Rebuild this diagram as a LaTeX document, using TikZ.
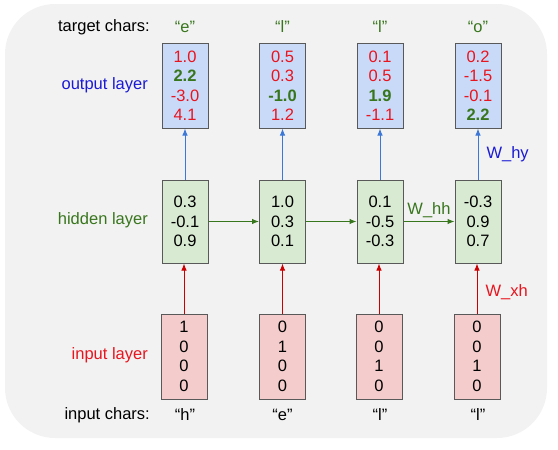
\documentclass[tikz,border=0pt]{standalone}
\usepackage{fontspec}
\setmainfont{Liberation Sans}
\usetikzlibrary{arrows.meta}
\definecolor{bgc}{HTML}{F2F2F2}
\definecolor{outfill}{HTML}{C9DAF8}
\definecolor{hidfill}{HTML}{D9EAD3}
\definecolor{infill}{HTML}{F4CCCC}
\definecolor{boxline}{HTML}{595959}
\definecolor{tred}{HTML}{E8141E}
\definecolor{tgreen}{HTML}{38761D}
\definecolor{tblue}{HTML}{1A1AD6}
\definecolor{ablue}{HTML}{3C78D8}
\definecolor{ared}{HTML}{CC0000}
\begin{document}
\begin{tikzpicture}[x=1pt,y=-1pt,
  txt/.style={font=\fontsize{16.5}{19.5}\selectfont, inner sep=0pt},
  vbox/.style={txt, draw=boxline, line width=1pt, minimum width=46pt, align=center},
  outbox/.style={vbox, fill=outfill, minimum height=85pt, text=tred},
  hidbox/.style={vbox, fill=hidfill, minimum height=83pt},
  inbox/.style={vbox, fill=infill, minimum height=85pt},
  lbl/.style={txt, anchor=east},
  arr/.style={-{Latex[length=7pt,width=5.5pt]}, line width=1pt}]
\useasboundingbox (0,0) rectangle (558,450);
\fill[bgc, rounded corners=50pt] (5,4) rectangle (547,438);
% headers
\node[lbl] (tc) at (150,27) {target chars:};
\node[lbl, text=tblue] (ol) at (148,85) {output layer};
\node[lbl, text=tgreen] (hl) at (148,220) {hidden layer};
\node[lbl, text=tred] (il) at (148,355) {input layer};
\node[lbl] (ic) at (150,415) {input chars:};
% target chars
\node[txt, text=tgreen] (t1) at (185,27) {“e”};
\node[txt, text=tgreen] (t2) at (282.5,27) {“l”};
\node[txt, text=tgreen] (t3) at (380,27) {“l”};
\node[txt, text=tgreen] (t4) at (478,27) {“o”};
% output boxes
\node[outbox] (o1) at (185,85.5) {1.0\\\textcolor{tgreen}{\bfseries 2.2}\\-3.0\\4.1};
\node[outbox] (o2) at (282.5,85.5) {0.5\\0.3\\\textcolor{tgreen}{\bfseries -1.0}\\1.2};
\node[outbox] (o3) at (380,85.5) {0.1\\0.5\\\textcolor{tgreen}{\bfseries 1.9}\\-1.1};
\node[outbox] (o4) at (478,85.5) {0.2\\-1.5\\-0.1\\\textcolor{tgreen}{\bfseries 2.2}};
% hidden boxes
\node[hidbox] (h1) at (185,221.5) {0.3\\-0.1\\0.9};
\node[hidbox] (h2) at (282.5,221.5) {1.0\\0.3\\0.1};
\node[hidbox] (h3) at (380,221.5) {0.1\\-0.5\\-0.3};
\node[hidbox] (h4) at (478,221.5) {-0.3\\0.9\\0.7};
% input boxes
\node[inbox] (i1) at (184,356.5) {1\\0\\0\\0};
\node[inbox] (i2) at (282.5,356.5) {0\\1\\0\\0};
\node[inbox] (i3) at (379,356.5) {0\\0\\1\\0};
\node[inbox] (i4) at (477,356.5) {0\\0\\1\\0};
% input chars
\node[txt] (c1) at (185,415) {“h”};
\node[txt] (c2) at (282.5,415) {“e”};
\node[txt] (c3) at (380,415) {“l”};
\node[txt] (c4) at (478,415) {“l”};
% arrows
\foreach \k in {1,2,3} {
  \draw[arr, ablue] (h\k.north) -- (o\k.south);
  \draw[arr, ared] (i\k.north) -- (i\k.north |- h\k.south);
}
\draw[arr, ablue] (h4.north) -- node[txt, text=tblue, anchor=west, xshift=8pt] (why) {W\_hy} (o4.south);
\draw[arr, ared] (i4.north) -- node[txt, text=tred, anchor=west, xshift=8pt, yshift=-4pt] (wxh) {W\_xh} (i4.north |- h4.south);
\draw[arr, tgreen] (h1.east) -- (h2.west);
\draw[arr, tgreen] (h2.east) -- (h3.west);
\draw[arr, tgreen] (h3.east) -- node[txt, text=tgreen, anchor=south, yshift=3pt] (whh) {W\_hh} (h4.west);
\end{tikzpicture}
\end{document}
